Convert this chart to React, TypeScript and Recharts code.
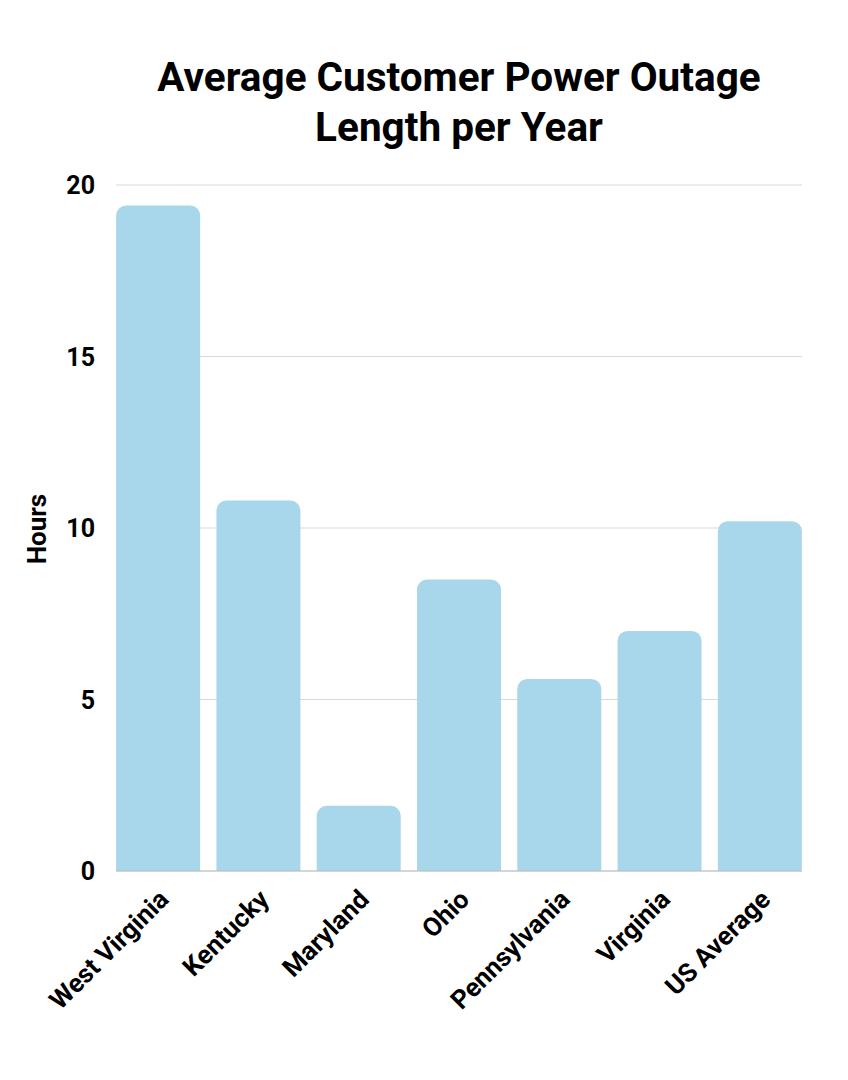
import React from "react";
import { BarChart, Bar, XAxis, YAxis, CartesianGrid } from "recharts";

const categories = ["West Virginia", "Kentucky", "Maryland", "Ohio", "Pennsylvania", "Virginia", "US Average"];
const hours = [19.4, 10.8, 1.9, 8.5, 5.6, 7.0, 10.2];
const yTicks = [0, 5, 10, 15, 20];
const title = ["Average Customer Power Outage", "Length per Year"];
const yLabel = "Hours";

const data = categories.map((c, i) => ({ name: c, value: hours[i] }));

const FONT = "Roboto, 'Noto Sans', sans-serif";

const XTick = (props: any) => {
  const { x, payload } = props;
  const ax = x + 12;
  const ay = 901;
  return (
    <text
      x={ax}
      y={ay}
      textAnchor="end"
      transform={`rotate(-45, ${ax}, ${ay})`}
      fontFamily={FONT}
      fontWeight={700}
      fontSize={26}
      fill="#000"
    >
      {payload.value}
    </text>
  );
};

const YTick = (props: any) => {
  const { y, payload } = props;
  return (
    <text x={95} y={y + 9} textAnchor="end" fontFamily={FONT} fontWeight={700} fontSize={25} fill="#000">
      {payload.value}
    </text>
  );
};

export default function App() {
  return (
    <div style={{ position: "absolute", left: 0, top: 0, width: 848, height: 1080, background: "#fff" }}>
      <div
        style={{
          position: "absolute",
          left: 59,
          top: 52,
          width: 800,
          textAlign: "center",
          fontFamily: FONT,
          fontWeight: 700,
          fontSize: 40.5,
          lineHeight: "50px",
          color: "#000",
        }}
      >
        {title.map((t) => (
          <div key={t}>{t}</div>
        ))}
      </div>
      <div
        style={{
          position: "absolute",
          left: 37,
          top: 529,
          transform: "translate(-50%, -50%) rotate(-90deg)",
          fontFamily: FONT,
          fontWeight: 700,
          fontSize: 26,
          lineHeight: "30px",
          color: "#000",
          whiteSpace: "nowrap",
        }}
      >
        {yLabel}
      </div>
      <BarChart
        width={848}
        height={1080}
        data={data}
        margin={{ top: 185, right: 46, left: 0, bottom: 0 }}
        barCategoryGap={8.14}
        style={{ position: "absolute", left: 0, top: 0 }}
      >
        <CartesianGrid vertical={false} stroke="#d9d9d9" />
        <XAxis
          dataKey="name"
          height={209}
          interval={0}
          padding={{ left: -8, right: -8 }}
          tickLine={false}
          axisLine={{ stroke: "#bdbdbd" }}
          tick={<XTick />}
        />
        <YAxis
          width={116}
          domain={[0, 20]}
          ticks={yTicks}
          tickLine={false}
          axisLine={false}
          tick={<YTick />}
        />
        <Bar dataKey="value" fill="#a8d7eb" radius={[10, 10, 0, 0]} isAnimationActive={false} />
      </BarChart>
    </div>
  );
}
